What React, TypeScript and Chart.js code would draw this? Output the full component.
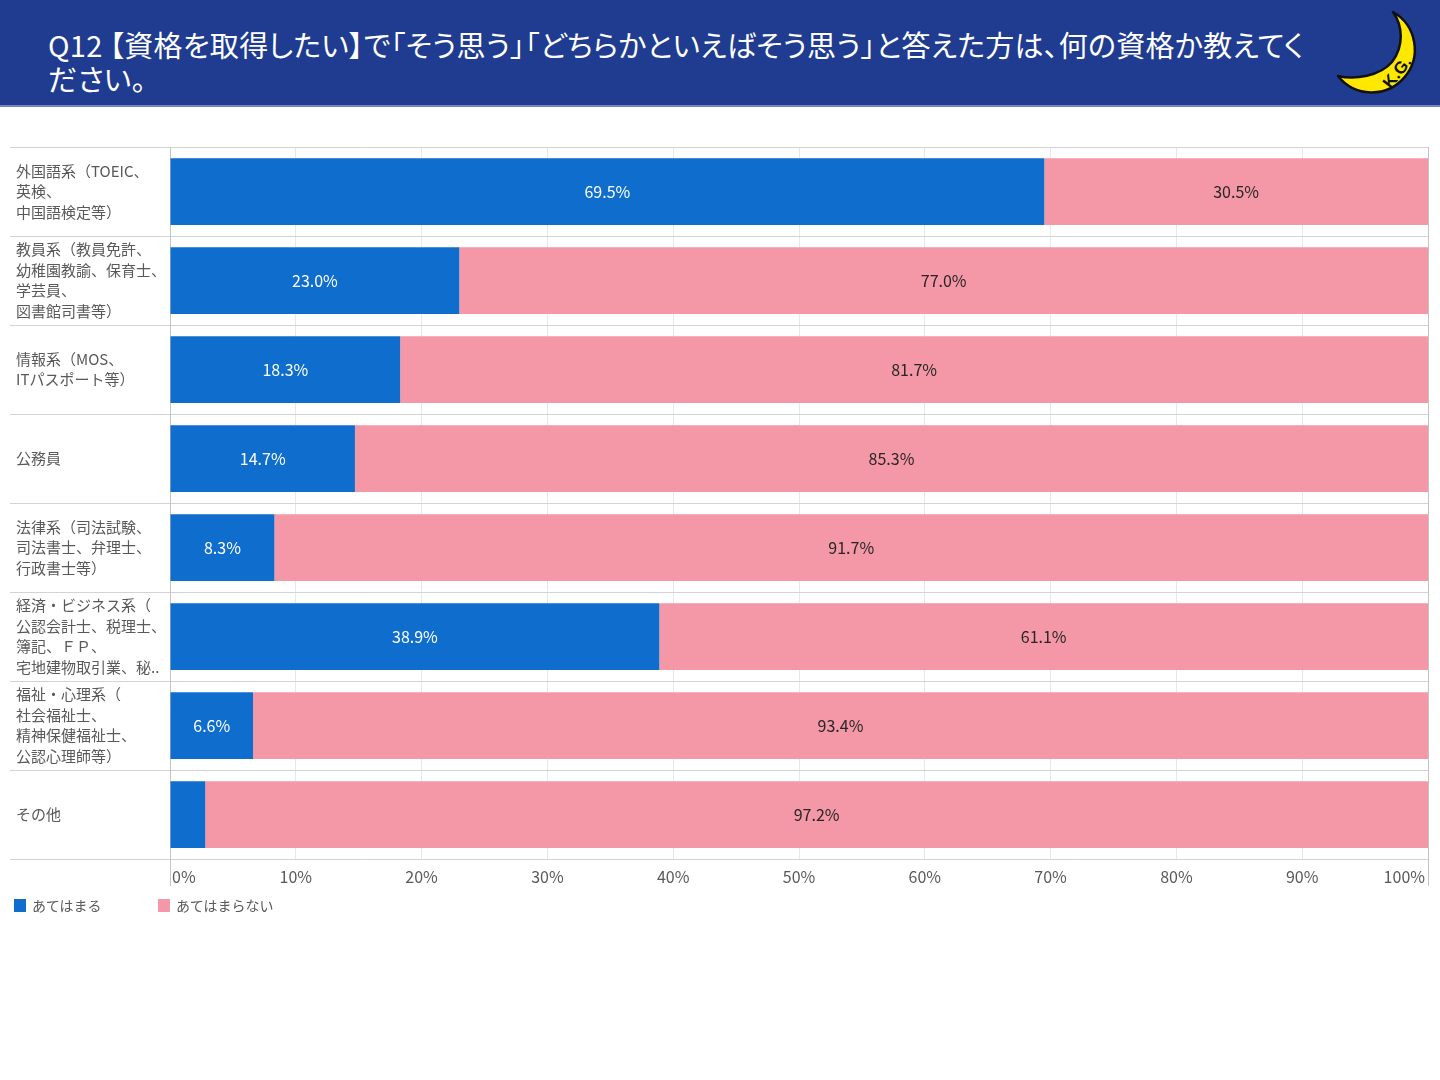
import React, { useEffect, useRef } from "react";
import { Chart, registerables } from "chart.js";

Chart.register(...registerables);

const titleLines = [
  "Q12 【資格を取得したい】で「そう思う」「どちらかといえばそう思う」と答えた方は、何の資格か教えてく",
  "ださい。",
];

const categories: string[][] = [
  ["外国語系（TOEIC、", "英検、", "中国語検定等）"],
  ["教員系（教員免許、", "幼稚園教諭、保育士、", "学芸員、", "図書館司書等）"],
  ["情報系（MOS、", "ITパスポート等）"],
  ["公務員"],
  ["法律系（司法試験、", "司法書士、弁理士、", "行政書士等）"],
  ["経済・ビジネス系（", "公認会計士、税理士、", "簿記、ＦＰ、", "宅地建物取引業、秘.."],
  ["福祉・心理系（", "社会福祉士、", "精神保健福祉士、", "公認心理師等）"],
  ["その他"],
];

const seriesNames = ["あてはまる", "あてはまらない"];
const appliesValues = [69.5, 23.0, 18.3, 14.7, 8.3, 38.9, 6.6, 2.8];
const notAppliesValues = [30.5, 77.0, 81.7, 85.3, 91.7, 61.1, 93.4, 97.2];

const seriesColors = ["#0F6ECD", "#F497A6"];
const valueLabelColors = ["#FFFFFF", "#262626"];

const FONT = '"Noto Sans CJK JP", "Noto Sans", sans-serif';
const TEXT_GRAY = "#595959";

const decorPlugin = {
  id: "decor",
  beforeDatasetsDraw(chart: any) {
    const { ctx, chartArea, scales } = chart;
    const y = scales.y;
    const x = scales.x;
    ctx.save();
    ctx.lineWidth = 1;
    ctx.strokeStyle = "#D3D3D3";
    for (let i = 0; i <= categories.length; i++) {
      const py = Math.round(y.getPixelForValue(i - 0.5)) + 0.5;
      ctx.beginPath();
      ctx.moveTo(10, py);
      ctx.lineTo(chartArea.right, py);
      ctx.stroke();
    }
    ctx.strokeStyle = "#C4C4C4";
    [x.min, x.max].forEach((v: number) => {
      const px = Math.round(x.getPixelForValue(v)) + 0.5;
      ctx.beginPath();
      ctx.moveTo(px, chartArea.top);
      ctx.lineTo(px, chartArea.bottom + 27);
      ctx.stroke();
    });
    ctx.restore();
  },
  afterDatasetsDraw(chart: any) {
    const { ctx, chartArea, scales } = chart;
    const x = scales.x;
    ctx.save();
    ctx.font = `16px ${FONT}`;
    ctx.textAlign = "center";
    ctx.textBaseline = "middle";
    chart.data.datasets.forEach((ds: any, di: number) => {
      const meta = chart.getDatasetMeta(di);
      meta.data.forEach((el: any, i: number) => {
        const v = ds.data[i];
        if (v < 5) return;
        const p = el.getProps(["x", "y", "base"], true);
        ctx.fillStyle = valueLabelColors[di];
        ctx.fillText(`${v.toFixed(1)}%`, (p.x + p.base) / 2, p.y);
      });
    });
    ctx.fillStyle = TEXT_GRAY;
    const ticks = x.ticks;
    ticks.forEach((t: any, i: number) => {
      const px = x.getPixelForValue(t.value);
      const last = ticks.length - 1;
      ctx.textAlign = i === 0 ? "left" : i === last ? "right" : "center";
      ctx.fillText(`${t.value}%`, i === 0 ? px + 2 : i === last ? px - 3 : px, chartArea.bottom + 18);
    });
    ctx.restore();
  },
};

function ChartCanvas() {
  const ref = useRef<HTMLCanvasElement | null>(null);
  useEffect(() => {
    if (!ref.current) return;
    const chart = new Chart(ref.current, {
      type: "bar",
      data: {
        labels: categories,
        datasets: [
          {
            label: seriesNames[0],
            data: appliesValues,
            backgroundColor: seriesColors[0],
            borderWidth: 0,
          },
          {
            label: seriesNames[1],
            data: notAppliesValues,
            backgroundColor: seriesColors[1],
            borderWidth: 0,
          },
        ],
      },
      options: {
        indexAxis: "y",
        animation: false,
        responsive: true,
        maintainAspectRatio: false,
        layout: { padding: { left: 16, right: 12, top: 37, bottom: 41 } },
        datasets: { bar: { categoryPercentage: 1, barPercentage: 0.75 } },
        plugins: { legend: { display: false }, tooltip: { enabled: false } },
        scales: {
          x: {
            stacked: true,
            min: 0,
            max: 100,
            ticks: { stepSize: 10, display: false },
            grid: { color: "#E8E8E8", drawTicks: false },
            border: { display: false },
            afterFit: (s: any) => {
              s.height = 0;
            },
          },
          y: {
            stacked: true,
            ticks: {
              crossAlign: "far",
              autoSkip: false,
              color: TEXT_GRAY,
              font: { family: FONT, size: 15, lineHeight: 1.37 },
            },
            grid: { display: false },
            border: { display: false },
            afterFit: (s: any) => {
              s.width = 154;
            },
          },
        },
      } as any,
      plugins: [decorPlugin],
    });
    return () => chart.destroy();
  }, []);
  return <canvas ref={ref} />;
}

function Moon() {
  return (
    <svg
      width={120}
      height={105}
      style={{ position: "absolute", left: 1320, top: 0 }}
      viewBox="0 0 120 105"
    >
      <path
        d="M73 12 A43 43 0 1 1 18 76 C 35 80, 60 76, 72 62 C 84 46, 83 26, 73 12 Z"
        fill="#FFE800"
        stroke="#111"
        strokeWidth={2.5}
        strokeLinejoin="round"
      />
      <text
        x={0}
        y={0}
        transform="translate(78 73) rotate(-52)"
        textAnchor="middle"
        dominantBaseline="middle"
        fontFamily='"Liberation Sans", Arial, sans-serif'
        fontWeight="bold"
        fontSize={17}
        fill="#111"
      >
        K.G.
      </text>
    </svg>
  );
}

export default function App() {
  return (
    <div
      style={{
        position: "absolute",
        left: 0,
        top: 0,
        width: 1440,
        height: 1080,
        background: "#FFFFFF",
        overflow: "hidden",
        fontFamily: FONT,
      }}
    >
      <div
        style={{
          position: "absolute",
          left: 0,
          top: 0,
          width: 1440,
          height: 105,
          background: "#1F3C91",
          borderBottom: "2px solid #6F86C2",
        }}
      >
        <div
          style={{
            position: "absolute",
            left: 48,
            top: 27,
            color: "#FFFFFF",
            fontSize: 29,
            letterSpacing: 0.3,
            lineHeight: "34px",
            whiteSpace: "nowrap",
            fontFeatureSettings: '"palt"',
          }}
        >
          {titleLines.map((l, i) => (
            <div key={i}>{l}</div>
          ))}
        </div>
        <Moon />
      </div>
      <div style={{ position: "absolute", left: 0, top: 110, width: 1440, height: 790 }}>
        <ChartCanvas />
      </div>
      <div
        style={{
          position: "absolute",
          left: 14,
          top: 895,
          height: 20,
          fontSize: 14,
          color: TEXT_GRAY,
        }}
      >
        {seriesNames.map((n, i) => (
          <div
            key={n}
            style={{
              position: "absolute",
              left: i * 144,
              top: 0,
              display: "flex",
              alignItems: "center",
              whiteSpace: "nowrap",
              height: 20,
            }}
          >
            <span
              style={{
                display: "inline-block",
                width: 12,
                height: 13,
                background: seriesColors[i],
                marginRight: 6,
              }}
            />
            <span>{n}</span>
          </div>
        ))}
      </div>
    </div>
  );
}
